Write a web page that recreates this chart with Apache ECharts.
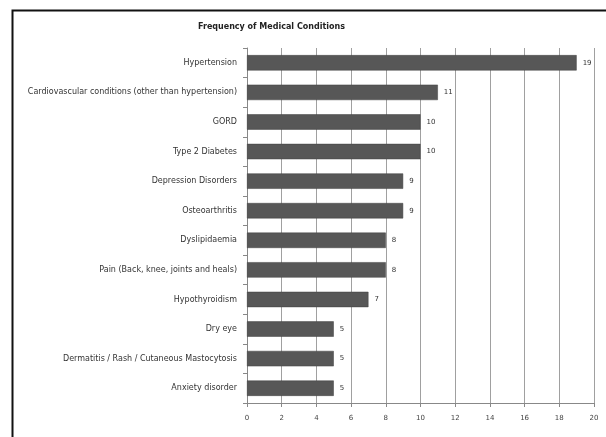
<!DOCTYPE html>
<html><head><meta charset="utf-8">
<script src="https://cdn.jsdelivr.net/npm/echarts@6/dist/echarts.min.js"></script>
<style>html,body{margin:0;padding:0;background:#fff}#c{width:606px;height:437px}</style>
</head><body><div id="c"></div>
<script>
const title = "Frequency of Medical Conditions";
const categories = [
  "Hypertension",
  "Cardiovascular conditions (other than hypertension)",
  "GORD",
  "Type 2 Diabetes",
  "Depression Disorders",
  "Osteoarthritis",
  "Dyslipidaemia",
  "Pain (Back, knee, joints and heals)",
  "Hypothyroidism",
  "Dry eye",
  "Dermatitis / Rash / Cutaneous Mastocytosis",
  "Anxiety disorder"
];
const values = [19, 11, 10, 10, 9, 9, 8, 8, 7, 5, 5, 5];
const xTicks = [0, 2, 4, 6, 8, 10, 12, 14, 16, 18, 20];

const chart = echarts.init(document.getElementById('c'), null, {renderer: 'canvas'});
const font = 'DejaVu Sans';
chart.setOption({
  animation: false,
  backgroundColor: '#ffffff',
  graphic: [{
    type: 'rect', left: 10, top: 8, shape: {width: 620, height: 450},
    style: {fill: 'none', stroke: '#111', lineWidth: 2}, silent: true
  }, {
    type: 'text', left: 198, top: 23,
    style: {text: title, font: 'bold 8px "DejaVu Sans"', fill: '#222'}, silent: true
  }],
  grid: {left: 247, right: 12, top: 48, bottom: 34, containLabel: false},
  xAxis: {
    type: 'value', min: 0, max: 20, interval: 2,
    axisLine: {show: true, lineStyle: {color: '#888', width: 1}},
    axisTick: {show: true, length: 4, lineStyle: {color: '#888'}},
    splitLine: {show: true, lineStyle: {color: '#a0a0a0', width: 1}},
    axisLabel: {fontFamily: font, fontSize: 7, color: '#444', margin: 12,
      formatter: v => xTicks.includes(v) ? String(v) : ''}
  },
  yAxis: {
    type: 'category', data: categories, inverse: true,
    axisLine: {show: true, lineStyle: {color: '#888', width: 1}},
    axisTick: {show: true, length: 4, lineStyle: {color: '#888'}},
    axisLabel: {fontFamily: font, fontSize: 8, color: '#333', margin: 10}
  },
  series: [{
    type: 'bar', data: values, barWidth: '52%',
    itemStyle: {color: '#575757', borderColor: '#404040', borderWidth: 0.5},
    label: {show: true, position: 'right', distance: 6, fontFamily: font, fontSize: 7, color: '#333'}
  }]
});
</script></body></html>
